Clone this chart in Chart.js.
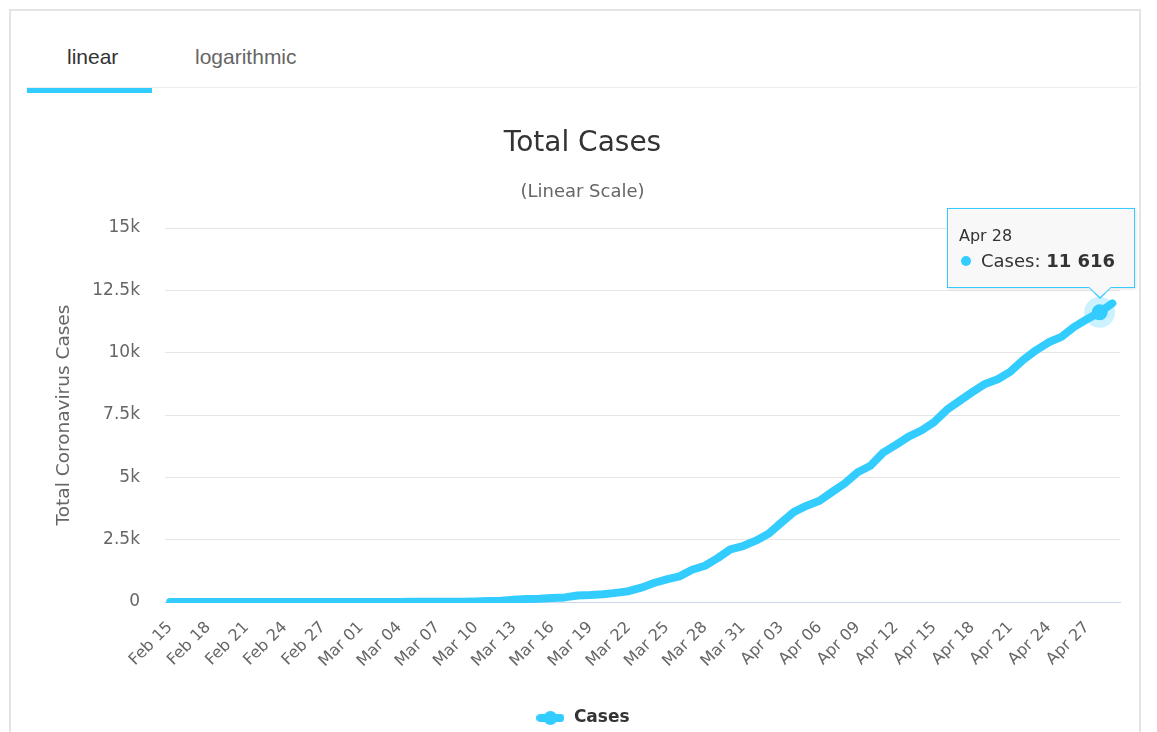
<!DOCTYPE html>
<html>
<head>
<meta charset="utf-8">
<script src="https://cdn.jsdelivr.net/npm/chart.js@4.4.1/dist/chart.umd.min.js"></script>
<style>
html, body { margin:0; padding:0; background:#fff; width:1157px; height:732px; overflow:hidden; }
.card { position:absolute; left:9px; top:9px; width:1132px; height:760px; border:2px solid #e4e4e4; box-sizing:border-box; }
.tab { position:absolute; top:46px; font:21px/21px "Liberation Sans", Arial, sans-serif; }
.tab.on { left:67px; color:#333; }
.tab.off { left:195px; color:#666; }
.tabline { position:absolute; left:27px; top:87px; width:1110px; height:1px; background:#ececec; }
.tabbar { position:absolute; left:27px; top:88px; width:125px; height:5px; background:#33ccff; }
#wrap { position:absolute; left:0; top:0; width:1157px; height:740px; }
#tip { position:absolute; width:188px; box-sizing:border-box; padding:17px 11px 15px 11px;
  background:rgba(247,247,247,0.9); border:1px solid #33ccff; box-shadow:1px 1px 3px rgba(0,0,0,0.12);
  font-family:"DejaVu Sans", sans-serif; color:#333; opacity:0; pointer-events:none; }
#tip .tt { font-size:16px; line-height:20px; }
#tip .tb { font-size:18px; line-height:22px; margin-top:4px; white-space:nowrap; }
#tip .dot { display:inline-block; width:10px; height:10px; border-radius:50%; background:#33ccff; margin:0 10px 0 2px; vertical-align:1px; }
#tip .tv { font-weight:bold; }
#tip .c1, #tip .c2 { position:absolute; width:0; height:0; border-left:12px solid transparent; border-right:12px solid transparent; }
#tip .c1 { bottom:-12px; border-top:12px solid #33ccff; }
#tip .c2 { bottom:-10px; border-top:11px solid #f7f7f7; }
</style>
</head>
<body>
<div class="card">
</div>
<div class="tab on">linear</div>
<div class="tab off">logarithmic</div>
<div class="tabline"></div>
<div class="tabbar"></div>
<div id="wrap"><canvas id="c" width="1157" height="740"></canvas></div>
<div id="tip"><div class="tt"></div><div class="tb"><span class="dot"></span>Cases: <span class="tv"></span></div><div class="c1"></div><div class="c2"></div></div>
<script>
// data — Total Cases, Feb 15 .. Apr 29
const labels = [
    'Feb 15','Feb 16','Feb 17','Feb 18','Feb 19','Feb 20','Feb 21','Feb 22','Feb 23','Feb 24','Feb 25','Feb 26','Feb 27','Feb 28','Feb 29',
    'Mar 01','Mar 02','Mar 03','Mar 04','Mar 05','Mar 06','Mar 07','Mar 08','Mar 09','Mar 10','Mar 11','Mar 12','Mar 13','Mar 14','Mar 15','Mar 16',
    'Mar 17','Mar 18','Mar 19','Mar 20','Mar 21','Mar 22','Mar 23','Mar 24','Mar 25','Mar 26','Mar 27','Mar 28','Mar 29','Mar 30','Mar 31',
    'Apr 01','Apr 02','Apr 03','Apr 04','Apr 05','Apr 06','Apr 07','Apr 08','Apr 09','Apr 10','Apr 11','Apr 12','Apr 13','Apr 14','Apr 15',
    'Apr 16','Apr 17','Apr 18','Apr 19','Apr 20','Apr 21','Apr 22','Apr 23','Apr 24','Apr 25','Apr 26','Apr 27','Apr 28','Apr 29'
];
const cases = [
    0,0,0,0,0,0,0,0,0,0,0,1,1,3,3,
    3,3,4,4,6,9,9,15,15,25,45,49,89,123,131,158,
    184,260,277,308,367,433,576,762,906,1029,1292,1452,1760,2109,2245,
    2460,2738,3183,3613,3864,4057,4417,4761,5202,5467,5990,6300,6633,6879,7216,
    7707,8067,8418,8746,8936,9242,9710,10096,10417,10635,11036,11339,11616,11978
];
const yTicks = [0, 2500, 5000, 7500, 10000, 12500, 15000];
const yTickLabels = ['0', '2.5k', '5k', '7.5k', '10k', '12.5k', '15k'];
const xTickEvery = 3;
const hoverLabel = 'Apr 28';

const BLUE = '#33ccff';
const FONT = '"DejaVu Sans", Verdana, sans-serif';

const fmtNum = v => String(v).replace(/\B(?=(\d{3})+(?!\d))/g, ' ');

// legend symbol: thick line with a dot
function legendSymbol() {
    const c = document.createElement('canvas');
    c.width = 28; c.height = 14;
    const g = c.getContext('2d');
    g.strokeStyle = BLUE; g.lineWidth = 8; g.lineCap = 'round';
    g.beginPath(); g.moveTo(4, 7); g.lineTo(24, 7); g.stroke();
    g.fillStyle = BLUE;
    g.beginPath(); g.arc(14, 7, 7, 0, Math.PI * 2); g.fill();
    return c;
}

function externalTip(ctx) {
    const tip = document.getElementById('tip');
    const t = ctx.tooltip;
    if (!t.dataPoints || !t.dataPoints.length) { tip.style.opacity = 0; return; }
    const dp = t.dataPoints[0];
    tip.querySelector('.tt').textContent = labels[dp.dataIndex];
    tip.querySelector('.tv').textContent = fmtNum(cases[dp.dataIndex]);
    const px = dp.element.x, py = dp.element.y;
    const w = tip.offsetWidth, h = tip.offsetHeight;
    const left = Math.min(px - w / 2, 1135 - w);
    tip.style.left = left + 'px';
    tip.style.top = (py - h - 24) + 'px';
    const cx = px - left - 1 - 12;
    tip.querySelector('.c1').style.left = cx + 'px';
    tip.querySelector('.c2').style.left = cx + 'px';
    tip.style.opacity = 1;
}

const chart = new Chart(document.getElementById('c'), {
    type: 'line',
    data: {
        datasets: [{
            label: 'Cases',
            data: cases.map((v, i) => ({ x: i, y: v })),
            borderColor: BLUE,
            backgroundColor: BLUE,
            borderWidth: 8,
            borderJoinStyle: 'round',
            borderCapStyle: 'round',
            tension: 0,
            pointRadius: 0,
            pointHoverRadius: 8,
            pointHoverBackgroundColor: BLUE,
            pointHoverBorderColor: 'rgba(51,204,255,0.25)',
            pointHoverBorderWidth: 15,
            clip: { left: 6, right: 6, top: 6, bottom: 1 },
        }]
    },
    options: {
        responsive: false,
        animation: false,
        events: [],
        layout: { padding: { left: 45, right: 37, top: 0, bottom: 3.5 } },
        plugins: {
            title: {
                display: true, text: 'Total Cases', color: '#333',
                font: { family: FONT, size: 28, weight: 'normal' },
                padding: { top: 127, bottom: 20.6 }
            },
            subtitle: {
                display: true, text: '(Linear Scale)', color: '#666',
                font: { family: FONT, size: 18 },
                padding: { top: 0, bottom: 25.2 }
            },
            legend: {
                position: 'bottom',
                labels: {
                    usePointStyle: true, pointStyle: legendSymbol(), pointStyleWidth: 30,
                    color: '#333', padding: 10,
                    font: { family: FONT, size: 17, weight: 'bold' }
                }
            },
            tooltip: { enabled: false, animation: false, external: externalTip }
        },
        scales: {
            x: {
                type: 'linear', min: -0.4, max: 74.6,
                afterBuildTicks: s => { s.ticks = labels.map((l, i) => i).filter(i => i % xTickEvery === 0).map(i => ({ value: i })); },
                afterFit: s => { s.height = 97.5; },
                grid: { display: false, drawTicks: false },
                border: { display: true, color: '#ccd6eb', width: 1 },
                ticks: {
                    autoSkip: false, minRotation: 45, maxRotation: 45, padding: 16,
                    color: '#666', font: { family: FONT, size: 16 },
                    callback: v => labels[v]
                }
            },
            y: {
                min: 0, max: 15000,
                afterBuildTicks: s => { s.ticks = yTicks.map(v => ({ value: v })); },
                afterFit: s => { s.width = 120; },
                grid: { color: '#e6e6e6', drawTicks: false },
                border: { display: false },
                ticks: {
                    padding: 25, color: '#666', font: { family: FONT, size: 17 },
                    callback: v => yTickLabels[yTicks.indexOf(v)]
                },
                title: {
                    display: true, text: 'Total Coronavirus Cases', color: '#666',
                    font: { family: FONT, size: 18.5 }, padding: { top: 8, bottom: 0 }
                }
            }
        }
    }
});

const hi = [{ datasetIndex: 0, index: labels.indexOf(hoverLabel) }];
chart.setActiveElements(hi);
chart.tooltip.setActiveElements(hi, { x: 0, y: 0 });
chart.update();
externalTip({ chart, tooltip: chart.tooltip });
</script>
</body>
</html>
